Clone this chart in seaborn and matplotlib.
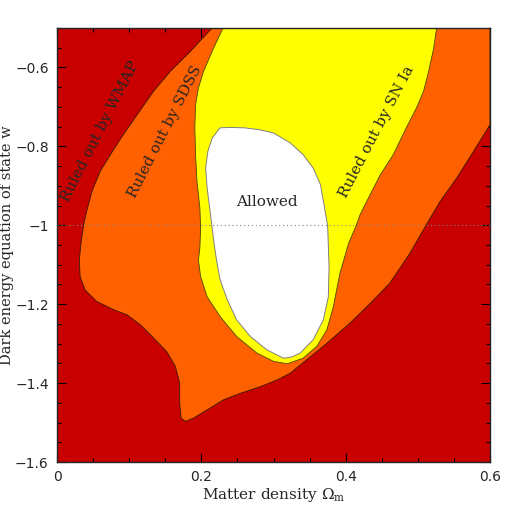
import numpy as np
import matplotlib
matplotlib.use("Agg")
import matplotlib.pyplot as plt
import seaborn as sns

# boundary between "ruled out by WMAP" (red) and the rest
wmap_x = [0.215, 0.185, 0.157, 0.134, 0.111, 0.092, 0.074, 0.060, 0.0485, 0.041,
          0.037, 0.033, 0.031, 0.032, 0.039, 0.055, 0.0785, 0.097, 0.1155, 0.134,
          0.152, 0.164, 0.170, 0.170, 0.172, 0.178, 0.189, 0.208, 0.231, 0.254,
          0.282, 0.305, 0.323, 0.346, 0.374, 0.406, 0.434, 0.461, 0.489, 0.511,
          0.531, 0.554, 0.577, 0.600, 0.600]
wmap_y = [-0.500, -0.559, -0.610, -0.660, -0.720, -0.770, -0.821, -0.863, -0.914, -0.965,
          -0.998, -1.049, -1.088, -1.130, -1.164, -1.193, -1.214, -1.227, -1.252, -1.286,
          -1.320, -1.358, -1.400, -1.451, -1.489, -1.497, -1.489, -1.468, -1.442, -1.426,
          -1.409, -1.392, -1.375, -1.341, -1.299, -1.248, -1.198, -1.147, -1.071, -1.001,
          -0.939, -0.880, -0.813, -0.745, -0.500]

# boundary of the region still allowed after SDSS (yellow)
sdss_x = [0.230, 0.217, 0.203, 0.196, 0.192, 0.191, 0.192, 0.194, 0.198, 0.199,
          0.198, 0.196, 0.199, 0.208, 0.226, 0.249, 0.277, 0.300, 0.319, 0.341,
          0.360, 0.374, 0.383, 0.392, 0.404, 0.415, 0.420, 0.434, 0.448, 0.466,
          0.484, 0.498, 0.508, 0.515, 0.522, 0.526]
sdss_y = [-0.500, -0.551, -0.610, -0.652, -0.694, -0.753, -0.821, -0.889, -0.956, -1.007,
          -1.057, -1.088, -1.130, -1.181, -1.231, -1.282, -1.324, -1.345, -1.351, -1.337,
          -1.307, -1.265, -1.206, -1.122, -1.046, -0.999, -0.973, -0.922, -0.872, -0.821,
          -0.753, -0.703, -0.660, -0.610, -0.551, -0.500]

# the allowed region (white)
ok_x = [0.226, 0.240, 0.260, 0.281, 0.300, 0.323, 0.341, 0.355, 0.365, 0.370,
        0.375, 0.377, 0.376, 0.369, 0.355, 0.337, 0.325, 0.314, 0.291, 0.268,
        0.249, 0.236, 0.226, 0.221, 0.217, 0.215, 0.2115, 0.208, 0.206, 0.209, 0.215]
ok_y = [-0.753, -0.752, -0.753, -0.758, -0.766, -0.791, -0.821, -0.855, -0.897, -0.948,
        -1.001, -1.105, -1.181, -1.240, -1.290, -1.324, -1.334, -1.337, -1.316, -1.282,
        -1.240, -1.189, -1.138, -1.088, -1.037, -1.007, -0.956, -0.905, -0.855, -0.813, -0.779]

labels = ["Ruled out by WMAP", "Ruled out by SDSS", "Ruled out by SN Ia", "Allowed"]
label_x = [0.060, 0.150, 0.443, 0.291]
label_y = [-0.762, -0.764, -0.764, -0.940]
label_rot = [63, 63, 62.5, 0]

xticks = [0, 0.2, 0.4, 0.6]
yticks = [-1.6, -1.4, -1.2, -1, -0.8, -0.6]
ytick_labels = ["\u22121.6", "\u22121.4", "\u22121.2", "\u22121", "\u22120.8", "\u22120.6"]

sns.set_style("ticks")
plt.rcParams["font.family"] = ["DejaVu Serif"]
plt.rcParams["mathtext.fontset"] = "dejavuserif"

fig = plt.figure(figsize=(5.18, 5.18), dpi=100)
ax = fig.add_axes([57 / 518, 56 / 518, 433 / 518, 434 / 518])
ax.set_facecolor("#c80000")

ax.fill(wmap_x, wmap_y, facecolor="#ff6000", edgecolor="#3a1a00", lw=0.6, zorder=1)
ax.fill(sdss_x, sdss_y, facecolor="#ffff00", edgecolor="#4a4a00", lw=0.6, zorder=2)
ax.fill(ok_x, ok_y, facecolor="white", edgecolor="#808080", lw=0.7, zorder=3)
ax.axhline(-1, color="#888888", lw=0.8, ls=(0, (1, 2.5)), zorder=4)

for t, x, y, r in zip(labels, label_x, label_y, label_rot):
    ax.text(x, y, t, rotation=r, fontsize=11, ha="center", va="center",
            rotation_mode="anchor", zorder=5)

ax.set_xlim(0, 0.6)
ax.set_ylim(-1.6, -0.5)
ax.set_xticks(xticks)
ax.set_xticklabels(["0", "0.2", "0.4", "0.6"], family="DejaVu Sans", fontsize=10)
ax.set_yticks(yticks)
ax.set_yticklabels(ytick_labels, family="DejaVu Sans", fontsize=10)
ax.set_xticks(np.arange(0, 0.601, 0.05), minor=True)
ax.set_yticks(np.arange(-1.6, -0.499, 0.05), minor=True)
ax.tick_params(which="both", direction="in", top=True, right=True, color="black")
ax.tick_params(which="major", length=6.5, width=0.8, pad=6)
ax.tick_params(which="minor", length=3.2, width=0.8)
for s in ax.spines.values():
    s.set_linewidth(1.0)
    s.set_zorder(6)

ax.set_xlabel(r"Matter density $\Omega_{\rm m}$", fontsize=11)
ax.set_ylabel("Dark energy equation of state w", fontsize=10.5)
ax.xaxis.set_label_coords(0.5, -0.055)
ax.yaxis.set_label_coords(-0.099, 0.5)

fig.savefig("out.png", dpi=100)
